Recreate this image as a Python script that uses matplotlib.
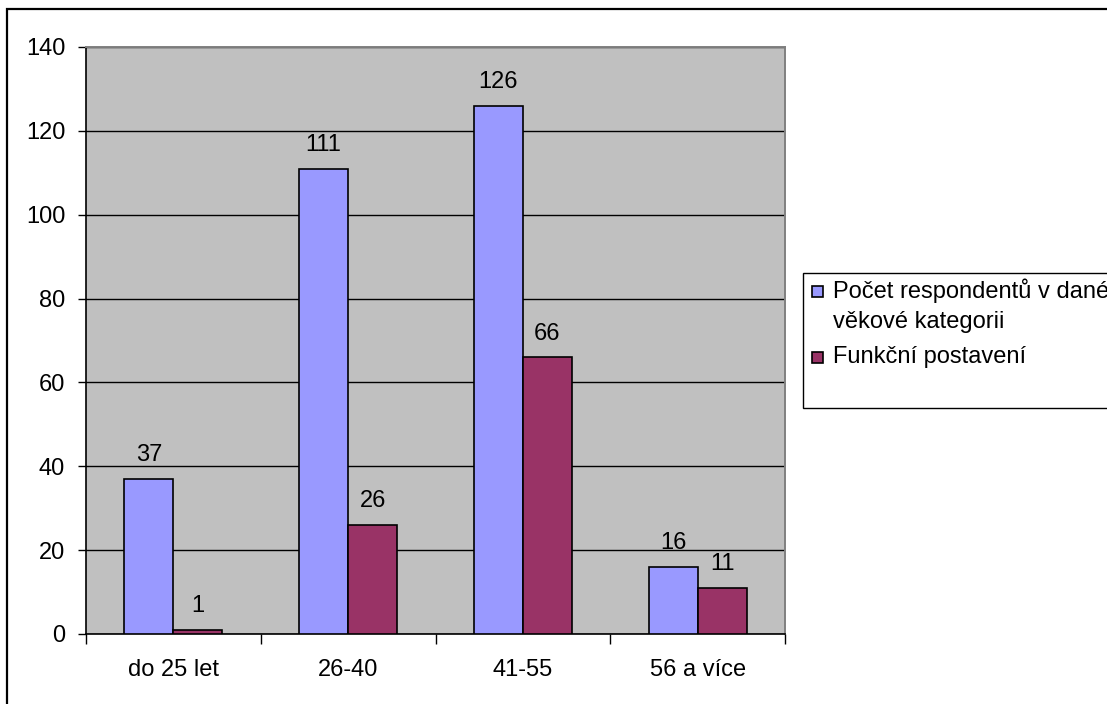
import matplotlib
matplotlib.use("Agg")
import matplotlib.pyplot as plt
from matplotlib.patches import Rectangle
import numpy as np

plt.rcParams['font.family'] = ['Liberation Sans', 'DejaVu Sans']

categories = ["do 25 let", "26-40", "41-55", "56 a více"]
series_names = ["Počet respondentů v dané\nvěkové kategorii", "Funkční postavení"]
respondents = [37, 111, 126, 16]
functional = [1, 26, 66, 11]
yticks = [0, 20, 40, 60, 80, 100, 120, 140]

FS = 17
W, H = 1107, 704
fig = plt.figure(figsize=(W / 100, H / 100), dpi=100)
fig.patch.set_facecolor("white")

# outer chart border
fig.add_artist(Rectangle((7 / W, -0.02), 1.05, 1 - 9 / H + 0.02, transform=fig.transFigure,
                         fill=False, edgecolor="black", lw=1.6))

ax = fig.add_axes([86 / W, 1 - 634 / H, (785 - 86) / W, (634 - 47) / H])
ax.set_facecolor("#C0C0C0")

x = np.arange(len(categories))
bw = 0.28
c1, c2 = "#9999FF", "#993366"
colors = [c1, c2]
b1 = ax.bar(x - bw / 2, respondents, bw, color=c1, edgecolor="black", lw=1.2, zorder=3)
b2 = ax.bar(x + bw / 2, functional, bw, color=c2, edgecolor="black", lw=1.2, zorder=3)

for rects, vals in ((b1, respondents), (b2, functional)):
    for r, v in zip(rects, vals):
        ax.annotate(str(v), (r.get_x() + r.get_width() / 2, v), xytext=(0, 9),
                    textcoords="offset points", ha="center", va="bottom", fontsize=FS)

ax.set_xlim(-0.5, len(categories) - 0.5)
ax.set_ylim(0, 140)
ax.set_yticks(yticks)
ax.set_yticklabels([str(t) for t in yticks], fontsize=FS)
ax.yaxis.grid(True, color="black", lw=1.0, zorder=1)
ax.set_axisbelow(True)

ax.set_xticks(x)
ax.set_xticklabels(categories, fontsize=FS)
ax.tick_params(axis="x", length=0, pad=18)
ax.set_xticks(np.arange(len(categories) + 1) - 0.5, minor=True)
ax.tick_params(axis="x", which="minor", length=7, width=1, direction="out", color="black")
ax.tick_params(axis="y", length=6, width=1, direction="out", pad=9)

for s in ("top", "right"):
    ax.spines[s].set_color("#808080")
    ax.spines[s].set_linewidth(1.4)
for s in ("left", "bottom"):
    ax.spines[s].set_color("black")
    ax.spines[s].set_linewidth(1.2)

# legend (drawn manually, Excel style: square aligned with first line)
fig.add_artist(Rectangle((803 / W, 1 - 408 / H), 0.5, (408 - 273) / H, transform=fig.transFigure,
                         fill=True, facecolor="white", edgecolor="black", lw=1.0, zorder=5))
entry_y = [291, 357]
line_gap = 31
for name, col, yy in zip(series_names, colors, entry_y):
    fig.add_artist(Rectangle((812 / W, 1 - (yy + 5.5) / H), 11 / W, 11 / H, transform=fig.transFigure,
                             facecolor=col, edgecolor="black", lw=1.2, zorder=6))
    for i, line in enumerate(name.split("\n")):
        fig.text(833 / W, 1 - (yy + i * line_gap) / H, line, fontsize=FS, ha="left", va="center",
                 zorder=6)

fig.savefig("out.png", dpi=100)
